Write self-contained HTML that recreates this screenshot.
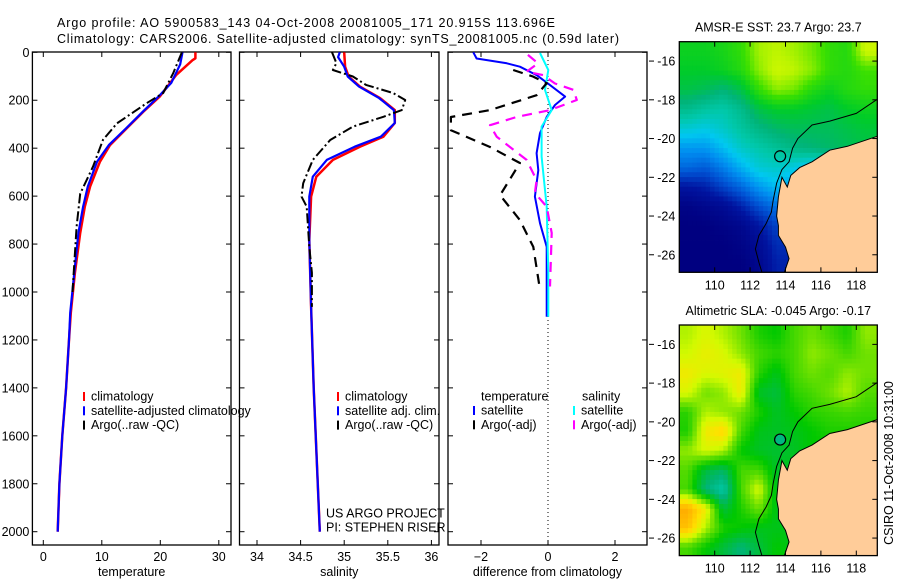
<!DOCTYPE html>
<html><head><meta charset="utf-8"><style>
body{margin:0;background:#fff;}
svg text{font-family:"Liberation Sans",sans-serif;font-size:12.5px;fill:#000;}
</style></head><body>
<svg id="fig" width="900" height="580" viewBox="0 0 900 580" xmlns="http://www.w3.org/2000/svg">
<rect width="900" height="580" fill="#fff"/>
<text x="57" y="27" font-size="14" textLength="498">Argo profile: AO 5900583_143 04-Oct-2008 20081005_171 20.915S 113.696E</text>
<text x="57" y="43" font-size="14" textLength="562">Climatology: CARS2006. Satellite-adjusted climatology: synTS_20081005.nc (0.59d later)</text>
<g id="g"></g>
</svg>
<script>
// ---------- profile data (depth in m) ----------
const tempClimDepth=[0,25,33,95,185,248,316,387,456,560,644,754,920,1087,1200,1400,1600,1800,2000];
const tempClim=[26.0,26.0,25.5,22.7,19.9,17.1,14.3,11.4,9.7,8.0,7.1,6.3,5.4,4.7,4.4,3.9,3.25,2.75,2.46];
const tempSatDepth=[0,50,127,185,248,316,387,456,560,644,754,920,1087,1200,1400,1600,1800,2000];
const tempSat=[23.8,23.4,21.9,19.7,17.0,14.2,11.2,9.2,7.6,6.8,6.0,5.3,4.6,4.4,3.9,3.25,2.75,2.46];
const tempArgoDepth=[0,87,170,212,250,296,365,477,590,727,920,1000];
const tempArgo=[23.7,22.2,20.5,17.7,15.4,12.6,10.2,8.5,6.3,5.7,5.2,5.0];

const salClimDepth=[0,60,101,143,191,241,295,352,394,449,519,602,783,1062,1400,2000];
const salClim=[35.00,35.01,35.05,35.18,35.41,35.58,35.58,35.45,35.18,34.87,34.68,34.62,34.60,34.62,34.65,34.72];
const salSatDepth=[0,20,60,101,143,191,241,295,352,394,449,519,602,783,1062,1400,2000];
const salSat=[34.95,34.93,35.00,35.04,35.17,35.40,35.57,35.58,35.42,35.12,34.80,34.64,34.60,34.60,34.62,34.65,34.72];
const salArgoDepth=[0,45,74,101,136,170,199,241,269,310,366,449,546,602,644,812,920,1062];
const salArgo=[34.86,34.91,34.87,35.10,35.25,35.56,35.70,35.66,35.45,35.10,34.84,34.64,34.53,34.51,34.57,34.60,34.63,34.63];

const dTempSatDepth=[0,26,46,60,95,137,185,220,270,337,421,492,602,713,812,1103];
const dTempSat=[-2.23,-2.13,-1.23,-0.84,-0.34,0.06,0.51,0.21,-0.04,-0.24,-0.34,-0.29,-0.39,-0.24,-0.04,-0.04];
const dTempArgoDepth=[74,101,129,179,241,270,325,395,462,596,700,812,991];
const dTempArgo=[-1.04,-0.45,-0.04,-0.34,-1.73,-2.9,-2.9,-1.73,-0.84,-1.43,-0.84,-0.44,-0.24];
const dSalSatDepth=[3,74,157,241,310,435,644,920,1103];
const dSalSat=[-0.24,0.01,-0.09,0.11,-0.19,-0.19,-0.04,0.01,0.01];
const dSalArgoDepth=[11,46,81,95,130,157,199,241,270,304,352,449,533,587,644,754,977];
const dSalArgo=[-0.6,-0.3,-0.64,-0.15,0.21,0.76,0.86,0.06,-0.94,-1.73,-1.53,-0.64,-0.34,-0.39,-0.04,0.11,0.06];

const depthTicks=[0,200,400,600,800,1000,1200,1400,1600,1800,2000];
const tempTicks=[0,10,20,30];
const salTicks=[34,34.5,35,35.5,36];
const diffTicks=[-2,0,2];

// ---------- map data (1-degree cells, rows lat -15..-26, cols lon 108..118) ----------
const mapLons=[108,109,110,111,112,113,114,115,116,117,118];
const mapLats=[-15,-16,-17,-18,-19,-20,-21,-22,-23,-24,-25,-26];
const sstGrid=[
[24.6,24.6,24.7,24.9,25.4,25.5,25.4,25.2,24.9,24.8,25.6],
[24.5,24.5,24.6,24.8,25.3,25.6,25.5,25.3,24.9,24.8,25.0],
[24.3,24.2,24.0,24.3,24.9,25.3,25.2,24.8,24.6,24.8,24.9],
[23.8,23.6,23.5,23.8,24.3,24.5,24.5,24.4,24.3,24.5,24.6],
[23.2,23.1,23.3,23.6,23.9,24.1,24.2,24.2,24.2,24.3,24.4],
[22.6,22.6,22.9,23.3,23.5,23.7,23.9,24.0,24.1,24.2,24.3],
[22.2,22.1,22.4,22.8,23.2,23.3,23.1,22.9,23.0,23.2,23.5],
[21.5,21.6,21.9,22.2,22.6,22.9,22.6,22.4,22.5,22.6,22.8],
[21.1,21.2,21.3,21.6,22.0,22.3,22.1,22.0,22.0,22.0,22.0],
[21.0,21.0,21.1,21.2,21.5,21.9,21.8,21.5,21.5,21.5,21.5],
[21.0,21.0,21.0,21.1,21.3,21.7,21.7,21.5,21.5,21.5,21.5],
[21.0,21.0,21.0,21.0,21.2,21.6,21.6,21.5,21.5,21.5,21.5]];
const slaGrid=[
[0.12,0.15,0.12,0.08,0.02,0.00,0.05,0.08,0.05,0.02,0.10],
[0.14,0.17,0.15,0.10,0.05,0.03,0.05,0.10,0.08,0.05,0.08],
[0.18,0.15,0.16,0.18,0.03,-0.02,0.05,0.08,0.06,0.10,0.08],
[0.15,0.08,0.10,0.18,-0.03,-0.05,0.03,0.05,0.08,0.12,0.06],
[0.03,0.12,0.10,0.08,0.02,-0.03,0.00,0.03,0.04,0.05,0.04],
[0.02,0.18,0.22,0.05,-0.02,-0.03,-0.02,0.00,0.02,0.02,0.02],
[0.10,0.15,0.12,0.00,-0.03,-0.04,-0.03,0.00,0.00,0.00,0.00],
[0.06,-0.05,-0.08,0.05,0.05,-0.03,-0.02,0.00,0.00,0.00,0.00],
[0.05,-0.10,-0.16,0.05,0.15,-0.03,-0.02,0.00,0.00,0.00,0.00],
[0.28,0.18,-0.05,0.02,0.08,-0.02,-0.02,0.00,0.00,0.00,0.00],
[0.25,0.12,0.02,0.00,-0.02,-0.02,-0.02,0.00,0.00,0.00,0.00],
[0.05,0.00,-0.05,-0.10,-0.05,0.00,-0.02,0.00,0.00,0.00,0.00]];
const lonTicks=[110,112,114,116,118];
const latTicks=[-16,-18,-20,-22,-24,-26];
const coastLon=[119.3,118.8,117.5,116.5,115.5,114.8,114.3,114.1,113.8,113.6,113.5,113.6,113.6,114.0,114.2,113.9,119.3];
const coastLat=[-19.85,-20.0,-20.4,-20.6,-21.2,-21.5,-21.9,-22.5,-22.0,-23.0,-24.0,-24.5,-25.0,-25.6,-26.2,-27.0,-27.0];
const shelfLon=[119.3,118,116.5,115.5,114.7,114.4,114.2,113.8,113.5,113.3,113.2,112.9,112.5,112.3,112.5,112.7];
const shelfLat=[-17.9,-18.7,-19.1,-19.3,-20,-20.5,-21.2,-21.6,-22.3,-23.2,-23.8,-24.4,-25,-25.7,-26.4,-27];
const floatLon=113.696, floatLat=-20.915;

const NS='http://www.w3.org/2000/svg';
const G=document.getElementById('g');
function mk(tag,attrs,parent){const e=document.createElementNS(NS,tag);for(const k in attrs)e.setAttribute(k,attrs[k]);(parent||G).appendChild(e);return e;}
const Y0=52.3, DS=0.2397;
const yD=d=>Y0+d*DS;
const xT=t=>43.3+t*5.85;
const xS=s=>257+(s-34)*87.2;
const xDf=v=>548+v*33.5;

function panel(name,x0,x1,xs,ticks,fmt,title,leftLabels){
  const r=mk('rect',{x:x0,y:52,width:x1-x0,height:493,fill:'none',stroke:'#000','stroke-width':1.3});
  
  
  ticks.forEach(t=>{const x=xs(t);
    mk('line',{x1:x,x2:x,y1:52,y2:57,stroke:'#000'});mk('line',{x1:x,x2:x,y1:545,y2:540,stroke:'#000'});
    const tx=mk('text',{x:x,y:561,'text-anchor':'middle','font-size':13});tx.textContent=fmt(t);
    
    });
  depthTicks.forEach(d=>{const y=yD(d);
    mk('line',{x1:x0,x2:x0+5,y1:y,y2:y,stroke:'#000'});mk('line',{x1:x1,x2:x1-5,y1:y,y2:y,stroke:'#000'});
    if(leftLabels){const tx=mk('text',{x:x0-3,y:y+4.5,'text-anchor':'end','font-size':13});tx.textContent=d;
      
      }});
  const tt=mk('text',{x:(x0+x1)/2,y:576,'text-anchor':'middle','font-size':13});tt.textContent=title;
  
  
}
function line(xs,vals,depths,color,w,dash,name){
  const pts=vals.map((v,i)=>xs(v).toFixed(1)+','+yD(depths[i]).toFixed(1)).join(' ');
  const p=mk('polyline',{points:pts,fill:'none',stroke:color,'stroke-width':w,'stroke-linejoin':'round'});
  if(dash)p.setAttribute('stroke-dasharray',dash);
  
  
}
function legend(items,x,y){items.forEach((it,i)=>{const yy=y+i*14.3;
  mk('line',{x1:x,x2:x,y1:yy-6,y2:yy+3,stroke:it[1],'stroke-width':2});
  const t=mk('text',{x:x+7,y:yy+2.5,'font-size':13});t.textContent=it[0];
  
  });}

panel('temperature',32.4,231,xT,tempTicks,t=>t,'temperature',true);
panel('salinity',239.5,439,xS,salTicks,t=>t,'salinity',false);
panel('difference',448,647,xDf,diffTicks,t=>t==0?'0':(t<0?'\u2212'+(-t):t),'difference from climatology',false);

line(xT,tempClim,tempClimDepth,'#f00',2.5,null,'temperature-climatology-line');
line(xT,tempSat,tempSatDepth,'#00f',2.2,null,'temperature-satellite-line');
line(xT,tempArgo,tempArgoDepth,'#000',2,'10,3,2,3','temperature-argo-line');
line(xS,salClim,salClimDepth,'#f00',2.5,null,'salinity-climatology-line');
line(xS,salSat,salSatDepth,'#00f',2.2,null,'salinity-satellite-line');
line(xS,salArgo,salArgoDepth,'#000',2,'10,3,2,3','salinity-argo-line');
mk('line',{x1:xDf(0),x2:xDf(0),y1:52,y2:545,stroke:'#000','stroke-dasharray':'1,3'});
line(xDf,dTempSat,dTempSatDepth,'#00f',2,null,'diff-temperature-satellite-line');
line(xDf,dSalSat,dSalSatDepth,'#0ff',2,null,'diff-salinity-satellite-line');
line(xDf,dTempArgo,dTempArgoDepth,'#000',2.2,'10,7','diff-temperature-argo-line');
line(xDf,dSalArgo,dSalArgoDepth,'#f0f',2.2,'10,7','diff-salinity-argo-line');

legend([['climatology','#f00'],['satellite-adjusted climatology','#00f'],['Argo(..raw -QC)','#000']],84,398);
legend([['climatology','#f00'],['satellite adj. clim.','#00f'],['Argo(..raw -QC)','#000']],338,398);
legend([['satellite','#00f'],['Argo(-adj)','#000']],474,412);
legend([['satellite','#0ff'],['Argo(-adj)','#f0f']],574,412);
[['temperature',481],['salinity',582]].forEach(a=>{const t=mk('text',{x:a[1],y:400.5,'font-size':13});t.textContent=a[0];
  
  });
[['US ARGO PROJECT',513],['PI: STEPHEN RISER',527]].forEach(a=>{const t=mk('text',{x:326,y:a[1]+4.5,'font-size':13});t.textContent=a[0];
  
  });

// ---------- maps ----------
function lerpCol(stops,v){
  if(v<=stops[0][0])return stops[0][1];
  for(let i=1;i<stops.length;i++){if(v<=stops[i][0]){const a=stops[i-1],b=stops[i],f=(v-a[0])/(b[0]-a[0]);
    return a[1].map((c,k)=>Math.round(c+(b[1][k]-c)*f));}}
  return stops[stops.length-1][1];
}
const sstStops=[[21.0,[0,0,128]],[21.5,[0,20,160]],[22.0,[0,80,210]],[22.5,[0,140,240]],[23.0,[0,200,240]],[23.5,[0,200,170]],[24.0,[0,180,120]],[24.5,[0,204,40]],[25.0,[60,224,0]],[25.5,[190,245,0]],[26.0,[255,255,0]]];
const slaStops=[[-0.2,[0,215,200]],[-0.1,[0,180,120]],[0.0,[0,200,0]],[0.08,[110,225,0]],[0.14,[210,250,0]],[0.2,[255,225,0]],[0.3,[255,160,0]]];
function sample(grid,r,c){ // bilinear between cell centres
  const nr=grid.length,nc=grid[0].length;
  r=Math.max(0,Math.min(nr-1,r));c=Math.max(0,Math.min(nc-1,c));
  const r0=Math.floor(r),c0=Math.floor(c),r1=Math.min(nr-1,r0+1),c1=Math.min(nc-1,c0+1),fr=r-r0,fc=c-c0;
  return grid[r0][c0]*(1-fr)*(1-fc)+grid[r0][c1]*(1-fr)*fc+grid[r1][c0]*fr*(1-fc)+grid[r1][c1]*fr*fc;
}

function drawMap(name,top,grid,stops,title){
  const L=679.3,R=877.3,T=top,B=top+230.6;
  const xL=lon=>L+(lon-108.0)*17.7, yL=lat=>T+(-15-lat)*19.37;
  const cid='clip-'+name;
  const cp=mk('clipPath',{id:cid});mk('rect',{x:L,y:T,width:R-L,height:B-T},cp);
  const gm=mk('g',{'clip-path':'url(#'+cid+')'});
  
  
  const SUB=4;
  for(let i=0;i<grid.length*SUB;i++){for(let j=0;j<(grid[0].length+1)*SUB;j++){
    const v=sample(grid,(i+0.5)/SUB-0.5,(j+0.5)/SUB-0.5);
    const lon=mapLons[0]+j/SUB, lat=mapLats[0]-i/SUB;
    const c=mk('rect',{x:xL(lon)-0.2,y:yL(lat)-0.2,width:17.7/SUB+0.4,height:19.37/SUB+0.4,fill:'rgb('+lerpCol(stops,v).join(',')+')'},gm);
    
    
  }}
  const land=mk('polygon',{points:coastLon.map((lo,i)=>xL(lo)+','+yL(coastLat[i])).join(' '),fill:'#ffcc99',stroke:'#000','stroke-width':1},gm);
  
  
  const sh=mk('polyline',{points:shelfLon.map((lo,i)=>xL(lo)+','+yL(shelfLat[i])).join(' '),fill:'none',stroke:'#000','stroke-width':1},gm);
  
  
  const fc=mk('circle',{cx:xL(floatLon),cy:yL(floatLat),r:5.5,fill:name==='sla'?'#00b880':'none',stroke:'#000','stroke-width':1.2});
  
  
  const fr=mk('rect',{x:L,y:T,width:R-L,height:B-T,fill:'none',stroke:'#000','stroke-width':1.3});
  
  
  lonTicks.forEach(lo=>{const x=xL(lo);mk('line',{x1:x,x2:x,y1:T,y2:T+5,stroke:'#000'});mk('line',{x1:x,x2:x,y1:B,y2:B-5,stroke:'#000'});
    const t=mk('text',{x:x,y:B+17,'text-anchor':'middle','font-size':13});t.textContent=lo;
    
    });
  latTicks.forEach(la=>{const y=yL(la);mk('line',{x1:R,x2:R-5,y1:y,y2:y,stroke:'#000'});mk('line',{x1:649,x2:654,y1:y,y2:y,stroke:'#000'});
    const t=mk('text',{x:L-4,y:y+4.5,'text-anchor':'end','font-size':13});t.textContent='-'+(-la);
    
    });
  const tt=mk('text',{x:(L+R)/2,y:T-10,'text-anchor':'middle','font-size':13});tt.textContent=title;
  
  
}
drawMap('sst',41.7,sstGrid,sstStops,'AMSR-E SST: 23.7 Argo: 23.7');
drawMap('sla',325,slaGrid,slaStops,'Altimetric SLA: -0.045 Argo: -0.17');
const cs=mk('text',{x:0,y:0,transform:'translate(893,463) rotate(-90)','text-anchor':'middle','font-size':13});
cs.textContent='CSIRO 11-Oct-2008 10:31:00';


</script>
</body></html>
